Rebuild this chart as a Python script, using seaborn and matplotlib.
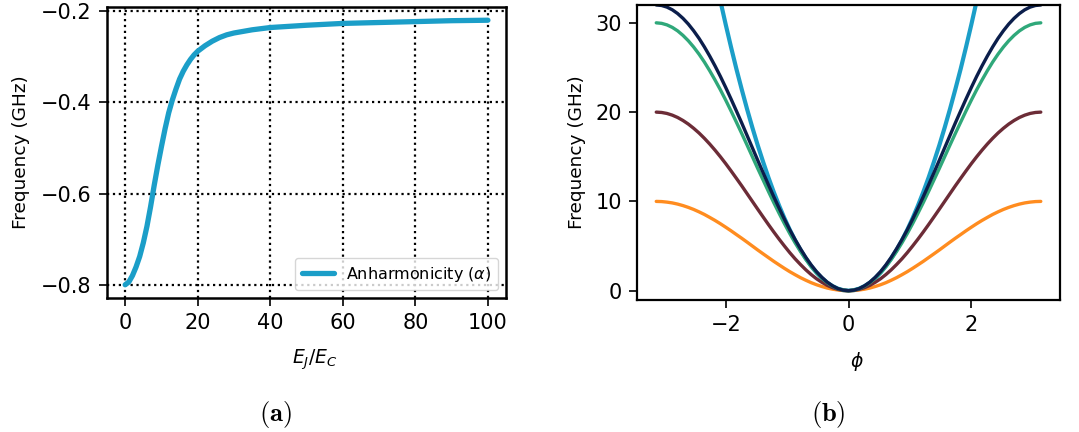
import numpy as np
import pandas as pd
import matplotlib
matplotlib.use("Agg")
import matplotlib.pyplot as plt
import seaborn as sns

# (a) anharmonicity vs EJ/EC
ej_ec = [0, 1, 2, 3, 4, 5, 6, 7, 8, 9, 10, 11, 12, 13, 14, 15, 16, 17, 18, 19, 20,
         22, 24, 26, 28, 30, 35, 40, 50, 60, 70, 80, 90, 100]
alpha = [-0.800, -0.794, -0.780, -0.761, -0.738, -0.708, -0.672, -0.629, -0.582,
         -0.538, -0.497, -0.458, -0.423, -0.395, -0.371, -0.349, -0.332, -0.318,
         -0.306, -0.296, -0.288, -0.276, -0.266, -0.258, -0.252, -0.248, -0.241,
         -0.236, -0.231, -0.227, -0.225, -0.223, -0.221, -0.220]

# (b) potentials, read for phi >= 0 (5 degree steps), mirrored for phi < 0
phi_half = [0.0, 0.087, 0.175, 0.262, 0.349, 0.436, 0.524, 0.611, 0.698, 0.785,
            0.873, 0.960, 1.047, 1.134, 1.222, 1.309, 1.396, 1.484, 1.571, 1.658,
            1.745, 1.833, 1.920, 2.007, 2.094, 2.182, 2.269, 2.356, 2.443, 2.531,
            2.618, 2.705, 2.793, 2.880, 2.967, 3.054, 3.142]
harmonic = [0, 0.06, 0.23, 0.51, 0.90, 1.41, 2.03, 2.76, 3.61, 4.57, 5.64, 6.82,
            8.11, 9.52, 11.05, 12.68, 14.43, 16.29, 18.26, 20.34, 22.54, 24.85,
            27.28, 29.81, 32.46, 35.22, 38.10, 41.08, 44.18, 47.39, 50.72, 54.16,
            57.71, 61.37, 65.15, 69.03, 73.03]
pot_10 = [0, 0.02, 0.08, 0.17, 0.30, 0.47, 0.67, 0.90, 1.17, 1.46, 1.79, 2.13,
          2.50, 2.89, 3.29, 3.71, 4.13, 4.56, 5.00, 5.44, 5.87, 6.29, 6.71, 7.11,
          7.50, 7.87, 8.21, 8.54, 8.83, 9.10, 9.33, 9.53, 9.70, 9.83, 9.92, 9.98, 10.0]
pot_20 = [0, 0.04, 0.15, 0.34, 0.60, 0.94, 1.34, 1.81, 2.34, 2.93, 3.57, 4.26,
          5.00, 5.77, 6.58, 7.41, 8.26, 9.13, 10.0, 10.87, 11.74, 12.59, 13.42,
          14.23, 15.0, 15.74, 16.43, 17.07, 17.66, 18.19, 18.66, 19.06, 19.40,
          19.66, 19.85, 19.96, 20.0]
pot_30 = [0, 0.06, 0.23, 0.51, 0.90, 1.41, 2.01, 2.71, 3.51, 4.39, 5.36, 6.40,
          7.50, 8.66, 9.87, 11.12, 12.40, 13.69, 15.0, 16.31, 17.60, 18.88, 20.13,
          21.34, 22.5, 23.60, 24.64, 25.61, 26.49, 27.29, 27.99, 28.59, 29.10,
          29.49, 29.77, 29.94, 30.0]
pot_32 = [0, 0.06, 0.24, 0.55, 0.96, 1.50, 2.14, 2.89, 3.74, 4.69, 5.72, 6.82,
          8.0, 9.24, 10.53, 11.86, 13.22, 14.61, 16.0, 17.39, 18.78, 20.14, 21.47,
          22.76, 24.0, 25.18, 26.28, 27.31, 28.26, 29.11, 29.86, 30.50, 31.04,
          31.46, 31.76, 31.94, 32.0]


def mirror(vals, negate=False):
    left = [-v for v in vals[::-1]] if negate else list(vals[::-1])
    return left + list(vals[1:])


sns.set_style("ticks")
plt.rcParams["font.family"] = ["DejaVu Sans"]
plt.rcParams["mathtext.fontset"] = "dejavusans"
for key in ["text.color", "axes.labelcolor", "xtick.color", "ytick.color", "axes.edgecolor"]:
    plt.rcParams[key] = "black"

fig = plt.figure(figsize=(10.79, 4.32), dpi=100)
ax1 = fig.add_axes([0.0992, 0.3102, 0.3698, 0.6736])
ax2 = fig.add_axes([0.5904, 0.3056, 0.3920, 0.6829])

# ---- panel (a)
df_a = pd.DataFrame({"x": ej_ec, "y": alpha})
sns.lineplot(data=df_a, x="x", y="y", ax=ax1, color="#1b9ec8", lw=3.8,
             label=r"Anharmonicity ($\alpha$)")
ax1.set_xticks([0, 20, 40, 60, 80, 100])
ax1.set_yticks([-0.8, -0.6, -0.4, -0.2])
ax1.grid(True, color="black", linestyle=":", lw=1.6)
ax1.set_xlabel(r"$E_J/E_C$", fontsize=13.5)
ax1.set_ylabel("Frequency (GHz)", fontsize=13.3, labelpad=8)
ax1.tick_params(labelsize=15, length=6, width=1.2, pad=5)
for s in ax1.spines.values():
    s.set_linewidth(1.8)
leg = ax1.legend(loc="lower right", fontsize=11.5, frameon=True, fancybox=True,
                 handlelength=2.0)
leg.get_frame().set_edgecolor("#cccccc")
leg.get_frame().set_alpha(0.8)

# ---- panel (b)
phi = mirror(phi_half, negate=True)
curves = [
    (harmonic, "#1b9ec8", 3.0),
    (pot_10, "#ff8c1f", 2.4),
    (pot_20, "#6c2c37", 2.4),
    (pot_30, "#2fa87a", 2.4),
    (pot_32, "#0b1e4b", 2.4),
]
for vals, col, lw in curves:
    d = pd.DataFrame({"phi": phi, "E": mirror(vals)})
    sns.lineplot(data=d, x="phi", y="E", ax=ax2, color=col, lw=lw)
ax2.set_xlim(-3.456, 3.456)
ax2.set_ylim(-1.04, 32)
ax2.set_xticks([-2, 0, 2])
ax2.set_yticks([0, 10, 20, 30])
ax2.set_xlabel(r"$\phi$", fontsize=13.5)
ax2.set_ylabel("Frequency (GHz)", fontsize=13.3, labelpad=7)
ax2.tick_params(labelsize=15, length=6, width=1.2, pad=5)
for s in ax2.spines.values():
    s.set_linewidth(1.6)

ax1.xaxis.set_label_coords(0.521, -0.17)
ax2.xaxis.set_label_coords(0.520, -0.17)

fig.text(275 / 1079, 1 - 414 / 432, r"$\mathbf{(a)}$", fontsize=19,
         ha="center", va="center", math_fontfamily="cm")
fig.text(828 / 1079, 1 - 414 / 432, r"$\mathbf{(b)}$", fontsize=19,
         ha="center", va="center", math_fontfamily="cm")

fig.savefig("out.png", dpi=100)
